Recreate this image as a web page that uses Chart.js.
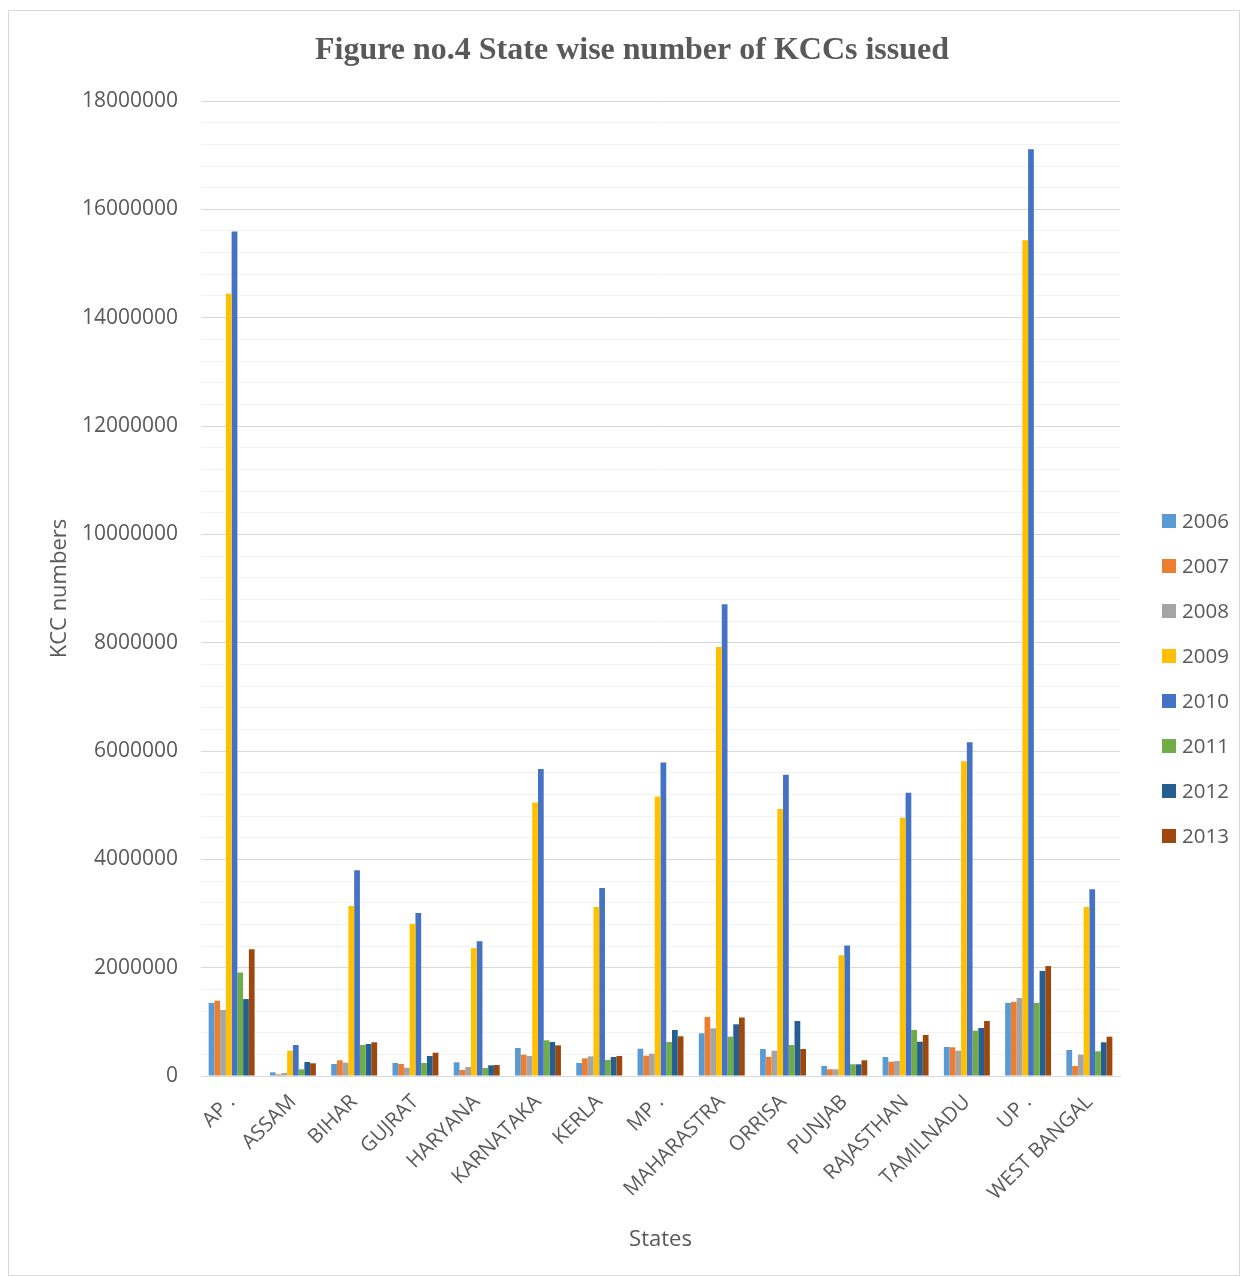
<!DOCTYPE html>
<html>
<head>
<meta charset="utf-8">
<title>State wise number of KCCs issued</title>
<script src="https://cdn.jsdelivr.net/npm/chart.js@4.4.1/dist/chart.umd.min.js"></script>
<style>
  html, body { margin: 0; padding: 0; background: #ffffff; }
  canvas { display: block; }
</style>
</head>
<body>
<canvas id="kcc" width="1247" height="1276"></canvas>
<script>
// States along the category axis
const states = ["AP .", "ASSAM", "BIHAR", "GUJRAT", "HARYANA", "KARNATAKA", "KERLA", "MP .",
  "MAHARASTRA", "ORRISA", "PUNJAB", "RAJASTHAN", "TAMILNADU", "UP .", "WEST BANGAL"];

// Number of KCCs issued per state, one array per year
const kcc2006 = [1350000, 68000, 222000, 240000, 253000, 517000, 240000, 504000, 788000, 498000, 185000, 351000, 535000, 1350000, 480000];
const kcc2007 = [1390000, 30000, 290000, 222000, 111000, 394000, 326000, 375000, 1090000, 351000, 124000, 264000, 529000, 1370000, 185000];
const kcc2008 = [1220000, 55000, 246000, 153000, 166000, 369000, 363000, 412000, 880000, 467000, 124000, 277000, 467000, 1440000, 394000];
const kcc2009 = [14440000, 467000, 3140000, 2810000, 2360000, 5050000, 3120000, 5160000, 7920000, 4930000, 2230000, 4770000, 5810000, 15430000, 3120000];
const kcc2010 = [15590000, 572000, 3800000, 3010000, 2490000, 5670000, 3470000, 5790000, 8710000, 5560000, 2410000, 5230000, 6160000, 17110000, 3450000];
const kcc2011 = [1910000, 124000, 572000, 240000, 148000, 659000, 295000, 628000, 726000, 572000, 216000, 849000, 837000, 1350000, 456000];
const kcc2012 = [1420000, 258000, 591000, 369000, 197000, 628000, 351000, 849000, 954000, 1015000, 216000, 633000, 886000, 1940000, 622000];
const kcc2013 = [2340000, 234000, 622000, 430000, 203000, 566000, 369000, 733000, 1080000, 498000, 290000, 757000, 1015000, 2030000, 726000];

const years = ["2006", "2007", "2008", "2009", "2010", "2011", "2012", "2013"];
const yearValues = [kcc2006, kcc2007, kcc2008, kcc2009, kcc2010, kcc2011, kcc2012, kcc2013];
const yearColors = ["#5B9BD5", "#ED7D31", "#A5A5A5", "#FFC000", "#4472C4", "#70AD47", "#255E91", "#9E480E"];

// Y axis range and steps
const yMax = 18000000;
const yMajorStep = 2000000;
const yMinorStep = 400000;

const textColor = "#595959";
const sansFont = "'Open Sans', 'Liberation Sans', sans-serif";

// Frame, heading and legend drawn around the plot
const decorations = {
  id: "decorations",
  beforeDraw(chart) {
    const ctx = chart.ctx;
    ctx.save();
    ctx.fillStyle = "#ffffff";
    ctx.fillRect(0, 0, chart.width, chart.height);
    ctx.strokeStyle = "#d9d9d9";
    ctx.lineWidth = 1;
    ctx.strokeRect(8.5, 10.5, chart.width - 16, chart.height - 11);
    ctx.restore();
  },
  afterDraw(chart) {
    const ctx = chart.ctx;
    ctx.save();
    ctx.fillStyle = textColor;
    ctx.font = "bold 32px 'Liberation Serif', 'Times New Roman', serif";
    ctx.textAlign = "center";
    ctx.textBaseline = "middle";
    ctx.fillText("Figure no.4 State wise number of KCCs issued", 632, 51);

    // legend
    const lx = chart.chartArea.right + 42;
    const ly = 521;
    const step = 45;
    ctx.font = "20.5px " + sansFont;
    ctx.textAlign = "left";
    chart.data.datasets.forEach((ds, i) => {
      const cy = ly + i * step;
      ctx.fillStyle = ds.backgroundColor;
      ctx.fillRect(lx, cy - 7, 14, 14);
      ctx.fillStyle = textColor;
      ctx.fillText(ds.label, lx + 20, cy + 1);
    });
    ctx.restore();
  }
};

new Chart(document.getElementById("kcc"), {
  type: "bar",
  data: {
    labels: states,
    datasets: years.map((y, i) => ({
      label: y,
      data: yearValues[i],
      backgroundColor: yearColors[i],
      borderWidth: 0,
      categoryPercentage: 0.75,
      barPercentage: 1.0
    }))
  },
  options: {
    responsive: false,
    animation: false,
    devicePixelRatio: 1,
    layout: { padding: { left: 18, top: 101, right: 127, bottom: 0 } },
    plugins: {
      legend: { display: false },
      title: { display: false },
      tooltip: { enabled: false }
    },
    scales: {
      x: {
        grid: { display: false },
        border: { display: true, color: "#d9d9d9", width: 1 },
        ticks: {
          color: textColor,
          font: { family: sansFont, size: 20.5 },
          minRotation: 45,
          maxRotation: 45,
          autoSkip: false,
          padding: 6
        },
        title: {
          display: true,
          text: "States",
          color: textColor,
          font: { family: sansFont, size: 22 },
          padding: { top: 0, bottom: 23 }
        },
        afterFit(scale) { scale.height = 200; }
      },
      y: {
        min: 0,
        max: yMax,
        border: { display: false },
        grid: { color: "#d9d9d9", lineWidth: 1, drawTicks: false },
        ticks: {
          stepSize: yMajorStep,
          color: textColor,
          font: { family: sansFont, size: 21 },
          padding: 23,
          callback: (v) => String(v)
        },
        title: {
          display: true,
          text: "KCC numbers",
          color: textColor,
          font: { family: sansFont, size: 22 },
          padding: { top: 29, bottom: 0 }
        },
        afterFit(scale) { scale.width = 183; }
      },
      yMinor: {
        position: "left",
        min: 0,
        max: yMax,
        border: { display: false },
        grid: {
          drawTicks: false,
          lineWidth: 1,
          color: (c) => (c.tick && c.tick.value % yMajorStep === 0) ? "rgba(0,0,0,0)" : "#f2f2f2"
        },
        ticks: { display: false, stepSize: yMinorStep },
        afterFit(scale) { scale.width = 0; }
      }
    }
  },
  plugins: [decorations]
});
</script>
</body>
</html>
